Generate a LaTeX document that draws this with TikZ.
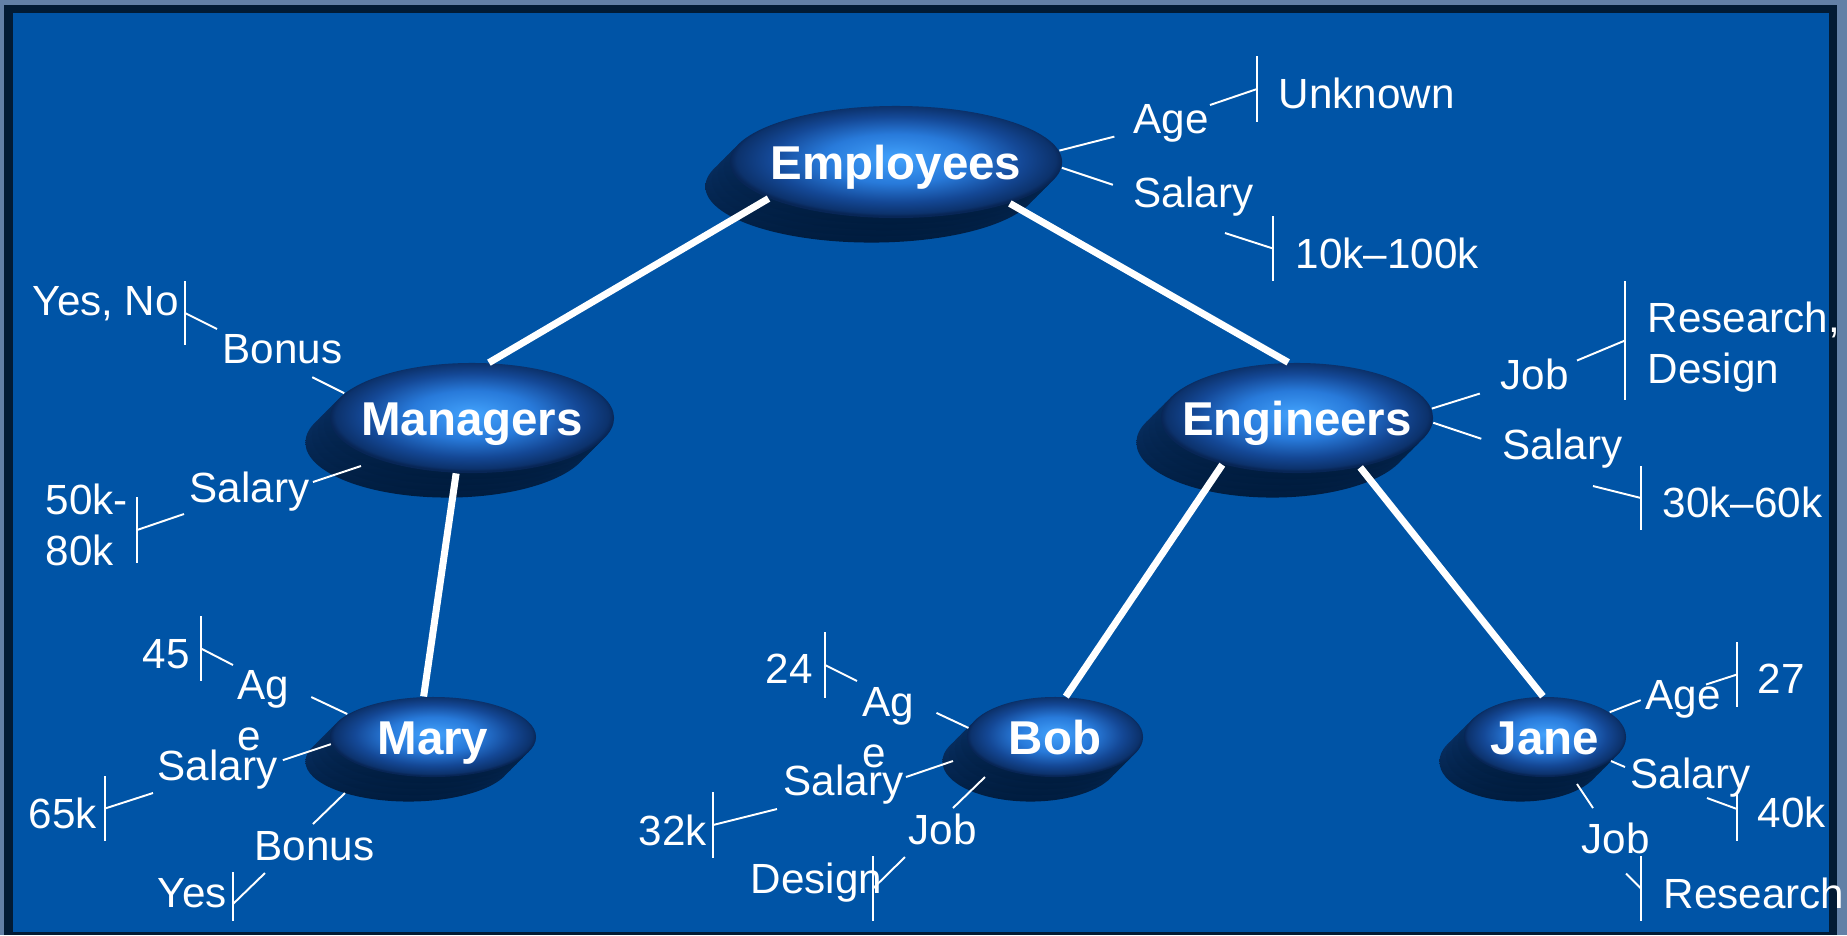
\documentclass[tikz,border=0pt]{standalone}
\usepackage{fontspec}
\setmainfont{Liberation Sans}
\usetikzlibrary{shapes.geometric}

\definecolor{slide}{RGB}{0,84,166}
\definecolor{slideedge}{RGB}{2,27,52}
\definecolor{slideframe}{RGB}{98,128,166}
\definecolor{discdeepA}{RGB}{10,52,108}
\definecolor{discdeepB}{RGB}{0,28,62}
\definecolor{glowA}{RGB}{66,162,252}
\definecolor{glowB}{RGB}{40,122,218}
\definecolor{glowC}{RGB}{20,72,150}
\definecolor{glowD}{RGB}{12,50,108}
\definecolor{glowE}{RGB}{8,38,86}

% bright middle, dark rim
\pgfdeclareradialshading{discglow}{\pgfpoint{0bp}{2bp}}{%
  color(0bp)=(glowA); color(11bp)=(glowB); color(19bp)=(glowC);
  color(24bp)=(glowD); color(25bp)=(glowE); color(50bp)=(glowE)}

\begin{document}
\begin{tikzpicture}[x=0.01cm, y=-0.01cm,
    extrude/.style={preaction={top color=discdeepA, bottom color=discdeepB,
        transform canvas={xshift=-#1cm, yshift=-#1cm}}},
    disc/.style={ellipse, inner xsep=-1cm, inner ysep=0pt, text=white,
        font=\bfseries\fontsize{13.5}{16}\selectfont, text height=9.7pt, text depth=0pt,
        extrude=0.245, extrude=0.18, extrude=0.12, extrude=0.06,
        shade, shading=discglow},
    branch/.style={white, line width=0.07cm},
    leader/.style={white, line width=0.55pt},
    attr/.style={text=white, inner sep=0pt, anchor=base west, align=left,
        font=\fontsize{12}{14.5}\selectfont},
    bar/.style={inner sep=0pt, minimum width=0pt, minimum height=#1}]

% slide and frame
\useasboundingbox (0,0) rectangle (1847,935);
\fill[slideframe] (0,0) rectangle (1847,935);
\fill[slideedge] (4,5) rectangle (1837,935);
\fill[slide] (13,13) rectangle (1829,932);

% discs
\node[disc, minimum width=3.32cm, minimum height=1.12cm] (emp) at (896,162) {Employees};
\node[disc, minimum width=2.84cm, minimum height=1.10cm] (mgr) at (472,418) {Managers};
\node[disc, minimum width=2.72cm, minimum height=1.10cm] (eng) at (1297,418) {Engineers};
\node[disc, minimum width=2.06cm, minimum height=0.80cm] (mary) at (433,737) {Mary};
\node[disc, minimum width=1.76cm, minimum height=0.80cm] (bob) at (1055,737) {Bob};
\node[disc, minimum width=1.62cm, minimum height=0.80cm] (jane) at (1545,737) {Jane};

% tree
\draw[branch] (emp.196) -- (mgr.73);
\draw[branch] (emp.340) -- (eng.99);
\draw[branch] (mgr.254) -- (mary.103);
\draw[branch] (eng.212) -- (bob.75);
\draw[branch] (eng.322) -- (jane.93);

% Employees
\node[attr] (empage) at (1133,133) {Age};
\node[attr] (empageval) at (1278,108) {Unknown};
\node[bar=0.64cm] (empagebar) at (1257,89) {};
\draw[leader] (emp.4) -- ++(55,-14);
\draw[leader] (empagebar.center) -- ++(-47,16);
\node[attr] (empsal) at (1133,207) {Salary};
\node[attr] (empsalval) at (1295,268) {10k--100k};
\node[bar=0.63cm] (empsalbar) at (1273,248.5) {};
\draw[leader] (emp.358) -- ++(51,17);
\draw[leader] (empsalbar.center) -- ++(-48,-15.5);

% Managers
\node[attr] (mgrbon) at (222,363) {Bonus};
\node[attr] (mgrbonval) at (32,315) {Yes, No};
\node[bar=0.62cm] (mgrbonbar) at (185,313) {};
\draw[leader] (mgr.169) -- ++(-32,-16);
\draw[leader] (mgrbonbar.center) -- ++(32,16);
\node[attr] (mgrsal) at (189,502) {Salary};
\node[attr] (mgrsalval) at (45,565) {50k-\\80k};
\node[bar=0.64cm] (mgrsalbar) at (137,530) {};
\draw[leader] ([shift={(-111,48)}]mgr.center) -- ++(-48,16);
\draw[leader] (mgrsalbar.center) -- ++(47,-16);

% Engineers
\node[attr] (engjob) at (1500,389) {Job};
\node[attr] (engjobval) at (1647,383) {Research,\\Design};
\node[bar=1.17cm] (engjobbar) at (1625,340.5) {};
\draw[leader] (eng.4) -- ++(48,-15);
\draw[leader] (engjobbar.center) -- ++(-48,20);
\node[attr] (engsal) at (1502,459) {Salary};
\node[attr] (engsalval) at (1662,517) {30k--60k};
\node[bar=0.62cm] (engsalbar) at (1641,498) {};
\draw[leader] (eng.358) -- ++(48,16);
\draw[leader] (engsalbar.center) -- ++(-48,-12);

% Mary
\node[attr] (maryage) at (237,750) {Ag\\e};
\node[attr] (maryageval) at (142,668) {45};
\node[bar=0.63cm] (maryagebar) at (201,648.5) {};
\draw[leader] (mary.165) -- ++(-36,-17);
\draw[leader] (maryagebar.center) -- ++(32,16.5);
\node[attr] (marysal) at (157,780) {Salary};
\node[attr] (marysalval) at (28,828) {65k};
\node[bar=0.63cm] (marysalbar) at (105,808.5) {};
\draw[leader] (mary.184) -- ++(-48,16);
\draw[leader] (marysalbar.center) -- ++(48,-15.5);
\node[attr] (marybon) at (254,860) {Bonus};
\node[attr] (marybonval) at (157,907) {Yes};
\node[bar=0.47cm] (marybonbar) at (233,896.5) {};
\draw[leader] ([shift={(-88,56)}]mary.center) -- ++(-32,31);
\draw[leader] ([shift={(0,7.5)}]marybonbar.center) -- ++(32,-31);

% Bob
\node[attr] (bobage) at (862,767) {Ag\\e};
\node[attr] (bobageval) at (765,683) {24};
\node[bar=0.64cm] (bobagebar) at (825,665) {};
\draw[leader] (bob.174) -- ++(-32,-15);
\draw[leader] (bobagebar.center) -- ++(32,16);
\node[attr] (bobsal) at (783,795) {Salary};
\node[attr] (bobsalval) at (638,845) {32k};
\node[bar=0.64cm] (bobsalbar) at (713,825) {};
\draw[leader] ([shift={(-102,24)}]bob.center) -- ++(-47,16);
\draw[leader] (bobsalbar.center) -- ++(64,-16);
\node[attr] (bobjob) at (908,844) {Job};
\node[attr] (bobjobval) at (750,893) {Design};
\node[bar=0.63cm] (bobjobbar) at (873,888.5) {};
\draw[leader] ([shift={(-70,40)}]bob.center) -- ++(-32,31);
\draw[leader] (bobjobbar.center) -- ++(32,-31.5);

% Jane
\node[attr] (janeage) at (1645,709) {Age};
\node[attr] (janeageval) at (1757,693) {27};
\node[bar=0.63cm] (janeagebar) at (1737,674.5) {};
\draw[leader] (jane.21) -- ++(31,-12);
\draw[leader] (janeagebar.center) -- ++(-31,10);
\node[attr] (janesal) at (1630,788) {Salary};
\node[attr] (janesalval) at (1757,827) {40k};
\node[bar=0.47cm] (janesalbar) at (1737,816.5) {};
\draw[leader] (jane.340) -- ++(14,6);
\draw[leader] ([shift={(0,-7.5)}]janesalbar.center) -- ++(-30,-11);
\node[attr] (janejob) at (1581,853) {Job};
\node[attr] (janejobval) at (1663,908) {Research};
\node[bar=0.63cm] (janejobbar) at (1641,888.5) {};
\draw[leader] ([shift={(32,47)}]jane.center) -- ++(16,24);
\draw[leader] (janejobbar.center) -- ++(-15,-15);

% value bars
\foreach \b in {empagebar,empsalbar,mgrbonbar,mgrsalbar,engjobbar,engsalbar,
    maryagebar,marysalbar,marybonbar,bobagebar,bobsalbar,bobjobbar,
    janeagebar,janesalbar,janejobbar}
  \draw[leader] (\b.north) -- (\b.south);
\end{tikzpicture}
\end{document}
